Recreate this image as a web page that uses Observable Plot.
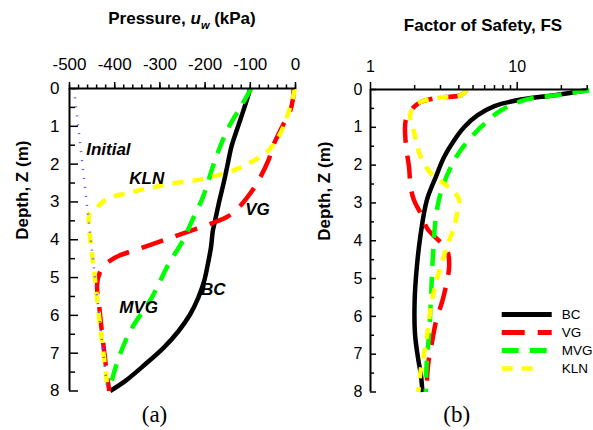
<!DOCTYPE html>
<html><head><meta charset="utf-8">
<script src="https://cdn.jsdelivr.net/npm/d3@7"></script>
<script src="https://cdn.jsdelivr.net/npm/@observablehq/plot@0.6"></script>
<style>
body{margin:0;background:#fff;overflow:hidden;}
#wrap{position:relative;width:593px;height:430px;font-family:"Liberation Sans",Arial,sans-serif;overflow:hidden;}
#wrap svg{position:absolute;top:0;}
.title{position:absolute;font-weight:bold;font-size:17px;line-height:20px;text-align:center;white-space:nowrap;color:#000;}
.panel{position:absolute;font-family:"Liberation Serif","Times New Roman",serif;font-size:23px;line-height:26px;text-align:center;width:100px;color:#000;}
</style></head><body>
<div id="wrap">
  <div class="title" style="left:32px;top:8.6px;width:300px">Pressure, <i>u</i><i style="font-size:11px;position:relative;top:5px">w</i> (kPa)</div>
  <div class="title" style="left:373px;top:16px;width:220px">Factor of Safety, FS</div>
  <div class="panel" style="left:104.5px;top:402.3px">(a)</div>
  <div class="panel" style="left:406.7px;top:402.3px">(b)</div>
</div>
<script>
// ---------- Left panel: pore-water pressure (kPa) vs depth (m) ----------
const initDepth = [0, 8];
const initP     = [-490, -416];

const bcDepthL = [0, 0.5, 1, 1.55, 2, 2.5, 3, 3.5, 3.77, 4.2, 4.65, 5.09, 5.53, 5.97, 6.42, 6.86, 7.3, 7.74, 8];
const bcP      = [-100, -113, -127, -142, -150, -159, -169, -178, -183, -187, -194, -202, -215, -233, -259, -292, -333, -377, -410];

const vgDepthL = [0, 0.3, 0.6, 0.95, 1.5, 1.9, 2.5, 2.9, 3.2, 3.4, 3.55, 3.77, 4.0, 4.2, 4.43, 4.55, 4.65, 4.87, 5.18, 5.8, 6.68, 7.57, 8];
const vgP      = [-4, -6, -12, -27, -49, -60, -85, -108, -130, -152, -182, -234, -289, -337, -392, -410, -421, -433, -439, -434, -426, -417, -412];

const mvgDepthL = [0, 0.44, 1.12, 2.0, 2.45, 2.88, 3.5, 4.0, 4.65, 5.53, 6.42, 7.3, 8];
const mvgP      = [-98, -119, -152, -181, -193, -205, -229, -248, -281, -318, -366, -396, -412];

const klnDepthL = [0, 0.5, 1.2, 1.64, 1.91, 2.13, 2.37, 2.53, 2.75, 2.93, 3.15, 3.32, 3.6, 4.0, 4.5, 5.0, 6.0, 7.0, 8];
const klnP      = [-1, -12, -34, -60, -93, -130, -196, -281, -366, -418, -440, -456, -457, -454, -449, -444, -435, -425, -415];

const leftLabelText = ["Initial", "KLN", "VG", "MVG", "BC"];
const leftLabelX    = [-414, -329, -84, -347, -182];
const leftLabelY    = [1.62, 2.37, 3.19, 5.8, 5.31];

// ---------- Right panel: factor of safety vs depth ----------
const bcDepthR = [0.02, 0.15, 0.265, 0.44, 0.68, 0.99, 1.34, 1.78, 2.31, 2.93, 3.81, 4.69, 5.57, 6.46, 7.16, 7.51, 8];
const bcFS     = [30, 18.0, 10.6, 7.0, 5.38, 4.36, 3.72, 3.18, 2.79, 2.42, 2.20, 2.07, 2.0, 2.01, 2.12, 2.2, 2.26];

const vgDepthR = [0.02, 0.15, 0.22, 0.33, 0.46, 0.81, 1.43, 2.05, 2.58, 2.93, 3.28, 3.68, 4.25, 4.65, 5.22, 5.57, 6.15, 6.63, 7.07, 7.51, 8];
const vgFS     = [4.5, 4.13, 2.86, 2.2, 1.98, 1.74, 1.74, 1.83, 1.88, 1.98, 2.2, 2.44, 3.32, 3.44, 3.26, 3.1, 2.79, 2.64, 2.51, 2.44, 2.42];

const mvgDepthR = [0.02, 0.15, 0.27, 0.55, 0.99, 1.6, 2.05, 2.58, 3.1, 3.81, 4.69, 5.57, 6.45, 7.16, 8];
const mvgFS     = [31, 18.5, 11.5, 7.77, 5.67, 4.13, 3.53, 3.1, 2.86, 2.72, 2.64, 2.58, 2.51, 2.42, 2.38];

const klnDepthR = [0.02, 0.15, 0.22, 0.33, 0.46, 0.68, 1.12, 1.52, 1.78, 2.22, 2.49, 2.71, 2.93, 3.19, 3.63, 3.99, 4.52, 5.13, 5.75, 6.46, 6.98, 7.43, 7.82, 8];
const klnFS     = [4.5, 4.13, 2.86, 2.2, 1.98, 1.86, 1.98, 2.09, 2.2, 2.58, 3.18, 3.72, 4.03, 3.93, 3.72, 3.44, 3.1, 2.79, 2.58, 2.44, 2.32, 2.2, 2.14, 2.12];

// ---------- Ticks ----------
const pressureTicks = [-500, -400, -300, -200, -100, 0];
const pressureMinor = d3.range(-500, 1, 20);
const fsTicks = [1, 10];
const fsMinor = [2, 3, 4, 5, 6, 7, 8, 9, 20, 30];
const depthTicks = [0, 1, 2, 3, 4, 5, 6, 7, 8];
const depthMinor = [0.5, 1.5, 2.5, 3.5, 4.5, 5.5, 6.5, 7.5];

// ---------- Series & legend ----------
const seriesNames  = ["BC", "VG", "MVG", "KLN"];
const seriesColors = ["#000000", "#ff0000", "#00ff00", "#ffff00"];
const seriesDash   = [null, "23,13", "17,11", "11,9"];
const legendDash   = [null, "23,13", "17,11", "11,9,11,30"];

const FONT = '"Liberation Sans", Arial, sans-serif';
const rows = (depths, vals) => depths.map((d, i) => ({depth: d, value: vals[i]}));
const LW = 4.5;

function curveMarks(sets) {
  return sets.map(([d, v], i) => Plot.line(rows(d, v), {
    x: "value", y: "depth", stroke: seriesColors[i], strokeWidth: LW,
    strokeDasharray: seriesDash[i] ?? undefined, strokeLinecap: "butt", curve: "catmull-rom"
  }));
}

const wrap = document.getElementById("wrap");

// Left plot
const L = {w: 300, ml: 69, mr: 5, mt: 88, mb: 39.5};
const fwL = L.w - L.ml - L.mr;
const left = Plot.plot({
  width: L.w, height: 430, marginLeft: L.ml, marginRight: L.mr, marginTop: L.mt, marginBottom: L.mb,
  style: {fontFamily: FONT, fontSize: "17px", color: "black", background: "transparent", overflow: "visible"},
  x: {domain: [-500, 0], label: null},
  y: {domain: [0, 8], reverse: true, label: null},
  marks: [
    ...curveMarks([[bcDepthL, bcP], [vgDepthL, vgP], [mvgDepthL, mvgP], [klnDepthL, klnP]]),
    Plot.line(rows(initDepth, initP), {x: "value", y: "depth", stroke: "#5050ff", strokeWidth: 2.5, strokeDasharray: "1,8", strokeLinecap: "butt"}),
    Plot.ruleY([0], {stroke: "black", strokeWidth: 2}),
    Plot.ruleX([-500], {stroke: "black", strokeWidth: 2}),
    Plot.axisX({anchor: "top", ticks: pressureMinor, tickSize: 4.5, tickFormat: () => "", strokeWidth: 1.5, label: null}),
    Plot.axisX({anchor: "top", ticks: pressureTicks, tickSize: 7, tickPadding: 12, tickFormat: d => String(d), strokeWidth: 1.5, label: null}),
    Plot.axisY({anchor: "left", ticks: depthTicks, tickSize: 0, tickPadding: 10, tickFormat: d => String(d), label: null}),
    Plot.tickY(depthMinor, {y: d => d, stroke: "black", strokeWidth: 1.5, insetRight: fwL - 6}),
    Plot.tickY(depthTicks, {y: d => d, stroke: "black", strokeWidth: 1.5, insetRight: fwL - 9}),
    Plot.text(["Depth, Z (m)"], {text: d => d, frameAnchor: "left", rotate: -90, dx: -42, lineAnchor: "bottom", fontWeight: "bold", fontSize: 17}),
    Plot.text(leftLabelText, {text: d => d, x: (d, i) => leftLabelX[i], y: (d, i) => leftLabelY[i], fontWeight: "bold", fontStyle: "italic", fontSize: 17})
  ]
});
left.style.left = "0px";
wrap.appendChild(left);

// Right plot
const R = {x0: 300, w: 293, ml: 70, mr: 6.3, mt: 89, mb: 38.5};
const fwR = R.w - R.ml - R.mr;
const right = Plot.plot({
  width: R.w, height: 430, marginLeft: R.ml, marginRight: R.mr, marginTop: R.mt, marginBottom: R.mb,
  style: {fontFamily: FONT, fontSize: "16px", color: "black", background: "transparent", overflow: "visible"},
  x: {type: "log", domain: [1, 30], label: null},
  y: {domain: [0, 8], reverse: true, label: null},
  marks: [
    ...curveMarks([[bcDepthR, bcFS], [vgDepthR, vgFS], [mvgDepthR, mvgFS], [klnDepthR, klnFS]]),
    Plot.ruleY([0], {stroke: "black", strokeWidth: 2}),
    Plot.ruleX([1], {stroke: "black", strokeWidth: 2}),
    Plot.axisX({anchor: "top", ticks: fsMinor, tickSize: 5, tickFormat: () => "", strokeWidth: 1.5, label: null}),
    Plot.axisX({anchor: "top", ticks: fsTicks, tickSize: 8, tickPadding: 9.3, tickFormat: d => String(d), strokeWidth: 1.5, label: null}),
    Plot.axisY({anchor: "left", ticks: depthTicks, tickSize: 0, tickPadding: 8, tickFormat: d => String(d), label: null}),
    Plot.tickY(depthMinor, {y: d => d, stroke: "black", strokeWidth: 1.5, insetRight: fwR - 4}),
    Plot.tickY(depthTicks, {y: d => d, stroke: "black", strokeWidth: 1.5, insetRight: fwR - 6}),
    Plot.text(["Depth, Z (m)"], {text: d => d, frameAnchor: "left", rotate: -90, dx: -40.5, lineAnchor: "bottom", fontWeight: "bold", fontSize: 17})
  ]
});
right.style.left = R.x0 + "px";
wrap.appendChild(right);

// Legend (own small plot)
const legend = Plot.plot({
  width: 98, height: 100, marginLeft: 6.7, marginRight: 41.3, marginTop: 13.3, marginBottom: 30.7,
  style: {fontFamily: FONT, fontSize: "13.5px", color: "black", background: "transparent", overflow: "visible"},
  x: {domain: [0, 1], axis: null},
  y: {type: "point", domain: seriesNames, axis: null, padding: 0},
  marks: [
    ...seriesNames.map((name, i) => Plot.ruleY([name], {
      y: d => d, x1: 0, x2: 1, stroke: seriesColors[i], strokeWidth: i === 3 ? 4.5 : 5,
      strokeDasharray: legendDash[i] ?? undefined, strokeLinecap: "butt"
    })),
    Plot.text(seriesNames, {text: d => d, y: d => d, x: 1, dx: 9.5, textAnchor: "start", fontSize: 13.5})
  ]
});
legend.style.left = "495px";
legend.style.top = "300px";
wrap.appendChild(legend);
</script>
</body></html>
